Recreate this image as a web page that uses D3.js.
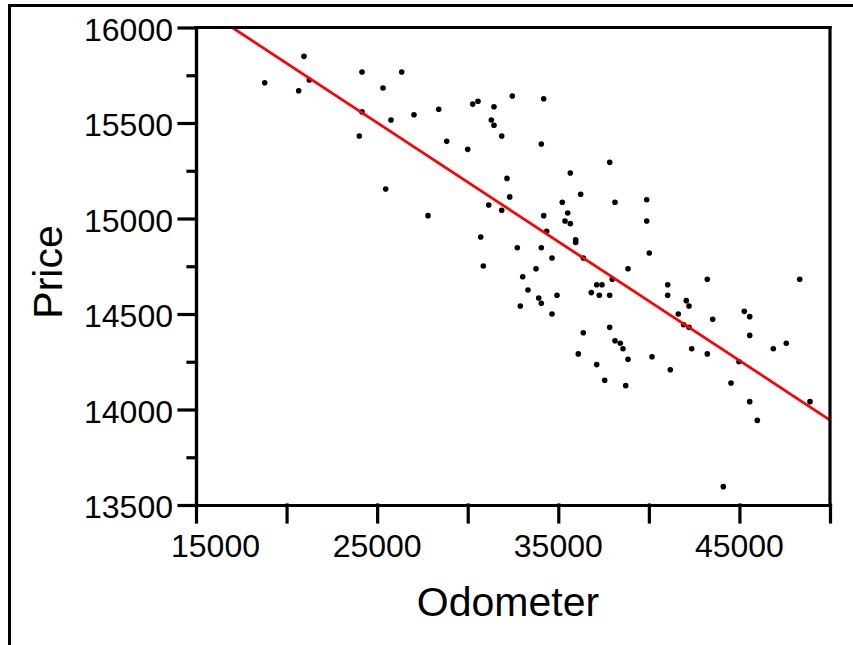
<!DOCTYPE html>
<html>
<head>
<meta charset="utf-8">
<script src="https://cdn.jsdelivr.net/npm/d3@7"></script>
<style>
  html, body { margin: 0; padding: 0; background: #fff; }
  svg { display: block; }
  text { font-family: "Liberation Sans", Arial, sans-serif; fill: #000; }
</style>
</head>
<body>
<svg id="chart" width="853" height="645"></svg>
<script>
// ---- data ----
const odometer = [
  18793, 20962, 20669, 21255, 24164, 26356, 25323, 24164, 25765, 27035,
  24015, 25472, 28398, 28840, 29999, 30275, 30568, 31451, 31302, 31451,
  31876, 32461, 34195, 34062, 27808, 32169, 32318, 31159, 31876, 30717,
  30860, 32737, 33035, 33328, 32903, 33919, 34062, 33770, 34062, 34653,
  34929, 34653, 34195, 34360, 35222, 35520, 35371, 35663, 35663, 36237,
  35961, 35961, 36381, 37838, 38131, 38849, 37982, 37121, 37413, 36823,
  37264, 37838, 36381, 36105, 37838, 38131, 38423, 38573, 38849, 37121,
  37562, 38722, 39881, 39881, 40024, 41040, 41040, 43226, 42067, 42216,
  41625, 41923, 42216, 43524, 45269, 45567, 45567, 48327, 40173, 41184,
  42365, 43226, 44976, 46870, 47587, 44535, 45567, 45987, 48896, 44110
];
const price = [
  15711, 15849, 15669, 15725, 15767, 15767, 15683, 15558, 15516, 15543,
  15432, 15154, 15572, 15404, 15362, 15599, 15614, 15585, 15516, 15488,
  15432, 15641, 15627, 15390, 15015, 15210, 15113, 15071, 15043, 14903,
  14751, 14847, 14695, 14626, 14542, 14584, 14556, 14737, 14847, 14793,
  14598, 14500, 15015, 14933, 15085, 15029, 14987, 14973, 15238, 15127,
  14889, 14875, 14793, 15294, 15085, 14737, 14682, 14653, 14653, 14612,
  14598, 14598, 14402, 14291, 14430, 14360, 14347, 14318, 14263, 14235,
  14153, 14125, 15098, 14987, 14819, 14653, 14598, 14682, 14570, 14542,
  14500, 14444, 14430, 14472, 14514, 14486, 14388, 14682, 14276, 14208,
  14318, 14291, 14250, 14318, 14347, 14139, 14041, 13943, 14041, 13596
];
// fitted regression line (endpoints)
const fitOdometer = [17000, 50000];
const fitPrice = [16000, 13945];

const xTicks = [15000, 20000, 25000, 30000, 35000, 40000, 45000, 50000];
const xTickLabels = ["15000", "25000", "35000", "45000"];
const yMajorTicks = [13500, 14000, 14500, 15000, 15500, 16000];
const yMinorTicks = [13750, 14250, 14750, 15250, 15750];
const yTickLabels = ["13500", "14000", "14500", "15000", "15500", "16000"];
const xTitle = "Odometer";
const yTitle = "Price";

// ---- chart ----
const svg = d3.select("#chart");
const L = 196, R = 830, T = 27.5, B = 505;
const x = d3.scaleLinear().domain([15000, 50000]).range([L, R]);
const y = d3.scaleLinear().domain([13500, 16000]).range([B, T]);

// outer frame (cropped)
svg.append("rect")
  .attr("x", 9.5).attr("y", 5.5).attr("width", 1000).attr("height", 1000)
  .attr("fill", "none").attr("stroke", "#000").attr("stroke-width", 3);

// clip
svg.append("clipPath").attr("id", "plotclip")
  .append("rect").attr("x", L).attr("y", T).attr("width", R - L).attr("height", B - T);

// points
svg.append("g").selectAll("circle")
  .data(odometer.map((o, i) => [o, price[i]]))
  .join("circle")
  .attr("cx", d => x(d[0]))
  .attr("cy", d => y(d[1]))
  .attr("r", 2.8)
  .attr("fill", "#000");

// regression line
svg.append("path")
  .datum(fitOdometer.map((o, i) => [o, fitPrice[i]]))
  .attr("clip-path", "url(#plotclip)")
  .attr("fill", "none")
  .attr("stroke", "#ff0000")
  .attr("stroke-width", 2.7)
  .attr("d", d3.line().x(d => x(d[0])).y(d => y(d[1])));

// x axis
const gx = svg.append("g").attr("transform", `translate(0,${B})`)
  .call(d3.axisBottom(x).tickValues(xTicks).tickSize(17).tickSizeOuter(0).tickFormat(""));
// y axis
const gy = svg.append("g").attr("transform", `translate(${L},0)`)
  .call(d3.axisLeft(y).tickValues(yMajorTicks).tickSize(17).tickSizeOuter(0).tickFormat(""));
const gy2 = svg.append("g").attr("transform", `translate(${L},0)`)
  .call(d3.axisLeft(y).tickValues(yMinorTicks).tickSize(8).tickSizeOuter(0).tickFormat(""));
[gx, gy, gy2].forEach(g => {
  g.selectAll("path, line").attr("stroke", "#000").attr("stroke-width", 3.2).attr("stroke-linecap", "square");
});

// top and right borders
svg.append("line").attr("x1", L).attr("x2", R).attr("y1", T).attr("y2", T)
  .attr("stroke", "#000").attr("stroke-width", 3.2).attr("stroke-linecap", "square");
svg.append("line").attr("x1", R).attr("x2", R).attr("y1", T).attr("y2", B)
  .attr("stroke", "#000").attr("stroke-width", 3.2).attr("stroke-linecap", "square");

// x tick labels
svg.append("g").selectAll("text")
  .data(xTickLabels)
  .join("text")
  .attr("x", (d, i) => i === 0 ? x(+d) - 25 : x(+d))
  .attr("y", 557)
  .attr("text-anchor", (d, i) => i === 0 ? "start" : "middle")
  .attr("font-size", 32)
  .text(d => d);

// y tick labels
svg.append("g").selectAll("text")
  .data(yTickLabels)
  .join("text")
  .attr("x", 173)
  .attr("y", d => y(+d) + 13)
  .attr("text-anchor", "end")
  .attr("font-size", 32)
  .text(d => d);

// titles
svg.append("text")
  .attr("x", 508).attr("y", 616)
  .attr("text-anchor", "middle")
  .attr("font-size", 41)
  .text(xTitle);
svg.append("text")
  .attr("transform", "translate(62,272) rotate(-90)")
  .attr("text-anchor", "middle")
  .attr("font-size", 41)
  .text(yTitle);
</script>
</body>
</html>
